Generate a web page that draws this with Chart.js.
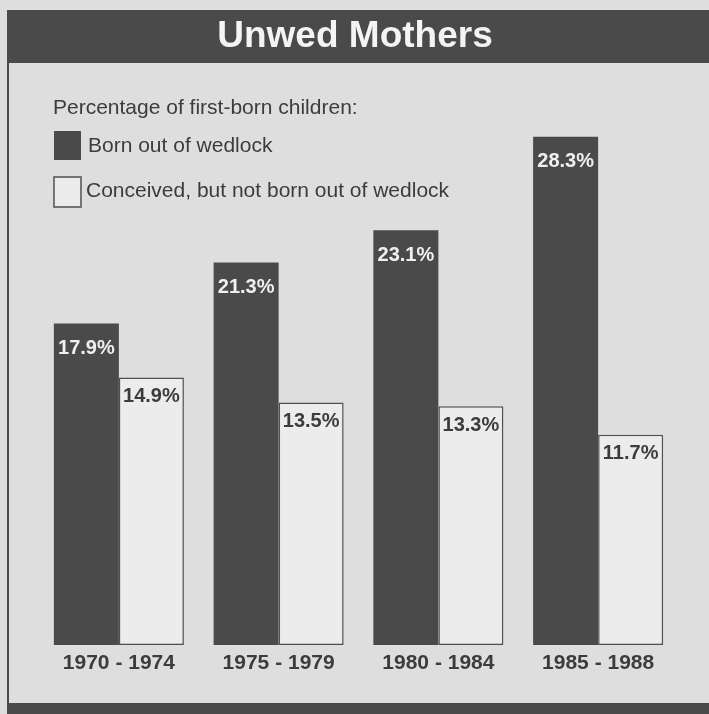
<!DOCTYPE html>
<html><head><meta charset="utf-8">
<script src="https://cdn.jsdelivr.net/npm/chart.js@4.4.1/dist/chart.umd.min.js"></script>
<style>html,body{margin:0;padding:0;background:#dedede;} canvas{display:block;}</style>
</head><body><canvas id="c" width="709" height="714"></canvas>
<script>
const chartTitle = "Unwed Mothers";
const subtitle = "Percentage of first-born children:";
const categories = ["1970 - 1974", "1975 - 1979", "1980 - 1984", "1985 - 1988"];
const seriesNames = ["Born out of wedlock", "Conceived, but not born out of wedlock"];
const bornOutOfWedlock = [17.9, 21.3, 23.1, 28.3];
const conceivedNotBorn = [14.9, 13.5, 13.3, 11.7];

const DARK = "#4a4a4a";
const TEXT = "#3c3c3c";
const BG = "#dedede";
const LIGHT = "#ececec";
const SANS = "'Liberation Sans',Arial,Helvetica,sans-serif";

const decor = {
  id: 'decor',
  beforeDraw(chart) {
    const ctx = chart.ctx;
    ctx.save();
    ctx.fillStyle = BG;
    ctx.fillRect(0, 0, chart.width, chart.height);
    ctx.fillStyle = DARK;
    ctx.fillRect(7, 10, 702, 53);
    ctx.fillRect(7, 10, 2, 700);
    ctx.fillRect(7, 703, 702, 11);
    ctx.fillStyle = "#f4f4f4";
    ctx.font = "bold 37px " + SANS;
    ctx.textAlign = "center";
    ctx.textBaseline = "middle";
    ctx.fillText(chartTitle, 355, 37);
    ctx.fillStyle = TEXT;
    ctx.textAlign = "left";
    ctx.font = "21px " + SANS;
    ctx.fillText(subtitle, 53, 108);
    ctx.fillStyle = DARK;
    ctx.fillRect(54, 131, 27, 29);
    ctx.fillStyle = TEXT;
    ctx.fillText(seriesNames[0], 88, 146);
    ctx.fillStyle = LIGHT;
    ctx.fillRect(54, 177, 27, 30);
    ctx.strokeStyle = "#505050";
    ctx.lineWidth = 1.5;
    ctx.strokeRect(54, 177, 27, 30);
    ctx.fillStyle = TEXT;
    ctx.fillText(seriesNames[1], 86, 191);
    ctx.restore();
  },
  afterDatasetsDraw(chart) {
    const ctx = chart.ctx;
    ctx.save();
    ctx.font = "bold 20px " + SANS;
    ctx.textAlign = "center";
    ctx.textBaseline = "middle";
    chart.data.datasets.forEach((ds, di) => {
      const meta = chart.getDatasetMeta(di);
      meta.data.forEach((el, i) => {
        const v = ds.data[i];
        ctx.fillStyle = di === 0 ? "#f0f0f0" : TEXT;
        const off = di === 0 ? 25 : 19;
        ctx.fillText(v.toFixed(1) + "%", el.x, el.y + off);
      });
    });
    ctx.restore();
  }
};

new Chart(document.getElementById('c'), {
  type: 'bar',
  data: {
    labels: categories,
    datasets: [
      { label: seriesNames[0], data: bornOutOfWedlock, backgroundColor: DARK, borderColor: DARK, borderWidth: 0,
        categoryPercentage: 0.814, barPercentage: 1.0 },
      { label: seriesNames[1], data: conceivedNotBorn, backgroundColor: LIGHT, borderColor: "#505050", borderWidth: 1.5,
        borderSkipped: false, categoryPercentage: 0.814, barPercentage: 1.0 }
    ]
  },
  options: {
    responsive: false,
    animation: false,
    devicePixelRatio: 1,
    layout: { padding: { left: 39, right: 31, top: 108, bottom: 29 } },
    plugins: { legend: { display: false }, title: { display: false }, tooltip: { enabled: false } },
    scales: {
      x: {
        grid: { display: false, drawTicks: false },
        border: { display: false },
        ticks: { color: TEXT, font: { family: SANS, size: 21, weight: 'bold' }, padding: 6, maxRotation: 0, autoSkip: false },
        afterFit(scale) { scale.height = 40; }
      },
      y: { display: false, min: 0, max: 29.9 }
    }
  },
  plugins: [decor]
});
</script>
</body></html>
